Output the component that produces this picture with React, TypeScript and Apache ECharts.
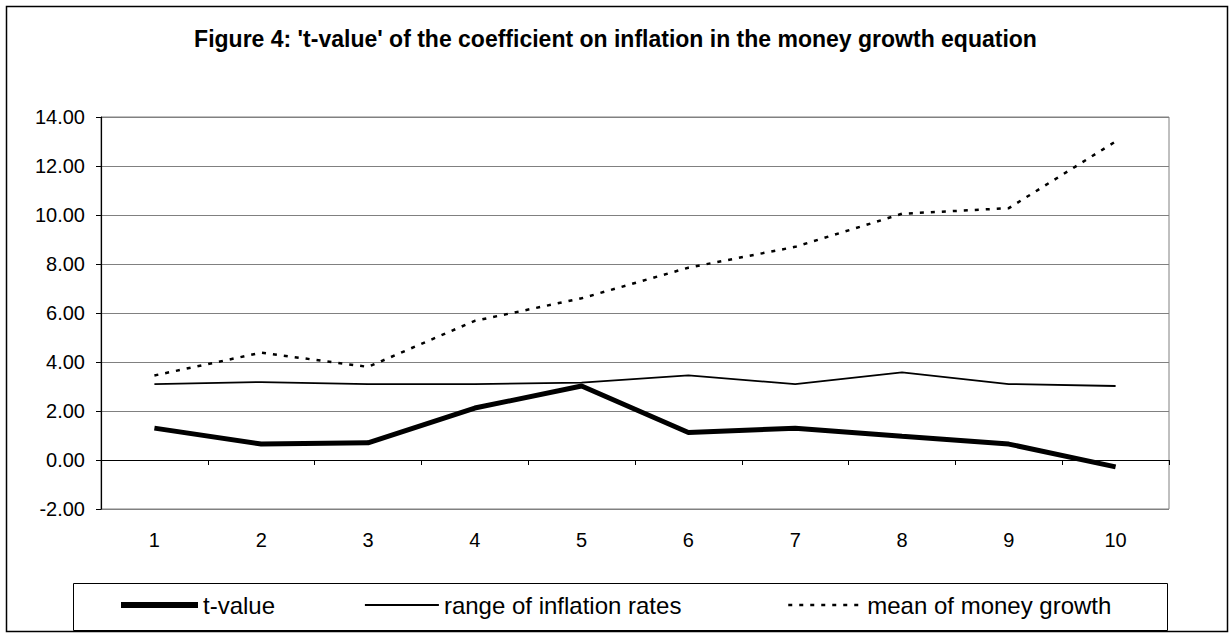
import React, { useEffect, useRef } from "react";
import * as echarts from "echarts";

const categories = ["1", "2", "3", "4", "5", "6", "7", "8", "9", "10"];
const tValue = [1.3, 0.65, 0.7, 2.12, 3.02, 1.12, 1.3, 0.97, 0.65, -0.28];
const rangeInflation = [3.1, 3.18, 3.1, 3.1, 3.16, 3.45, 3.1, 3.58, 3.1, 3.02];
const meanMoney = [3.45, 4.38, 3.8, 5.68, 6.6, 7.85, 8.7, 10.05, 10.28, 13.0];
const seriesNames = ["t-value", "range of inflation rates", "mean of money growth"];
const titleText =
  "Figure 4: 't-value' of the coefficient on inflation in the money growth equation";

const FONT = "'Liberation Sans', Arial, sans-serif";

export default function App() {
  const ref = useRef<HTMLDivElement>(null);

  useEffect(() => {
    if (!ref.current) return;
    const chart = echarts.init(ref.current, null, { renderer: "svg" });
    const legendBase = {
      orient: "horizontal",
      top: 593,
      padding: 0,
      itemHeight: 14,
      textStyle: { fontFamily: FONT, fontSize: 24, color: "#000" },
      itemStyle: { opacity: 0, color: "rgba(0,0,0,0)", borderWidth: 0 },
      selectedMode: false,
    };
    chart.setOption({
      animation: false,
      backgroundColor: "#fff",
      title: {
        text: titleText,
        left: "center",
        top: 27,
        padding: 0,
        textStyle: { fontFamily: FONT, fontSize: 23, fontWeight: "bold", color: "#000" },
      },
      legend: [
        {
          ...legendBase,
          left: 118,
          itemWidth: 77,
          data: [seriesNames[0]],
          lineStyle: { width: 6, color: "#000" },
        },
        {
          ...legendBase,
          left: 364,
          itemWidth: 74,
          data: [seriesNames[1]],
          lineStyle: { width: 1.8, color: "#000" },
        },
        {
          ...legendBase,
          left: 787,
          itemWidth: 74,
          data: [seriesNames[2]],
          lineStyle: { width: 2.5, color: "#000", type: [4, 7] },
        },
      ],
      grid: {
        left: 101,
        top: 117,
        width: 1068,
        height: 392,
        show: true,
        borderColor: "#808080",
        borderWidth: 1,
        containLabel: false,
      },
      xAxis: {
        type: "category",
        data: categories,
        boundaryGap: true,
        axisLine: { show: true, lineStyle: { color: "#000", width: 1.2 } },
        axisTick: { show: true, length: 5, lineStyle: { color: "#000" } },
        axisLabel: { fontFamily: FONT, fontSize: 20, color: "#000", margin: 21 },
        splitLine: { show: false },
      },
      yAxis: {
        type: "value",
        min: -2,
        max: 14,
        interval: 2,
        axisLine: { show: true, lineStyle: { color: "#000", width: 1.2 } },
        axisTick: { show: true, length: 5, lineStyle: { color: "#000" } },
        axisLabel: {
          fontFamily: FONT,
          fontSize: 20,
          color: "#000",
          margin: 16,
          formatter: (v: number) => v.toFixed(2),
        },
        splitLine: { show: true, lineStyle: { color: "#808080", width: 1.2 } },
      },
      series: [
        {
          name: seriesNames[0],
          type: "line",
          data: tValue,
          symbol: "none",
          lineStyle: { color: "#000", width: 5 },
          itemStyle: { color: "#000" },
          z: 5,
        },
        {
          name: seriesNames[1],
          type: "line",
          data: rangeInflation,
          symbol: "none",
          lineStyle: { color: "#000", width: 1.8 },
          itemStyle: { color: "#000" },
          z: 4,
        },
        {
          name: seriesNames[2],
          type: "line",
          data: meanMoney,
          symbol: "none",
          lineStyle: { color: "#000", width: 2.5, type: [4, 7] },
          itemStyle: { color: "#000" },
          z: 3,
        },
      ],
      graphic: [
        {
          type: "rect",
          silent: true,
          z: -1,
          shape: { x: 6.5, y: 6.5, width: 1221, height: 625 },
          style: { fill: "none", stroke: "#000", lineWidth: 1.5 },
        },
        {
          type: "rect",
          silent: true,
          z: -1,
          shape: { x: 73.5, y: 583.5, width: 1094, height: 47 },
          style: { fill: "none", stroke: "#000", lineWidth: 1 },
        },
      ],
    });
    return () => chart.dispose();
  }, []);

  return (
    <div
      ref={ref}
      style={{ position: "fixed", left: 0, top: 0, width: 1231, height: 635 }}
    />
  );
}
